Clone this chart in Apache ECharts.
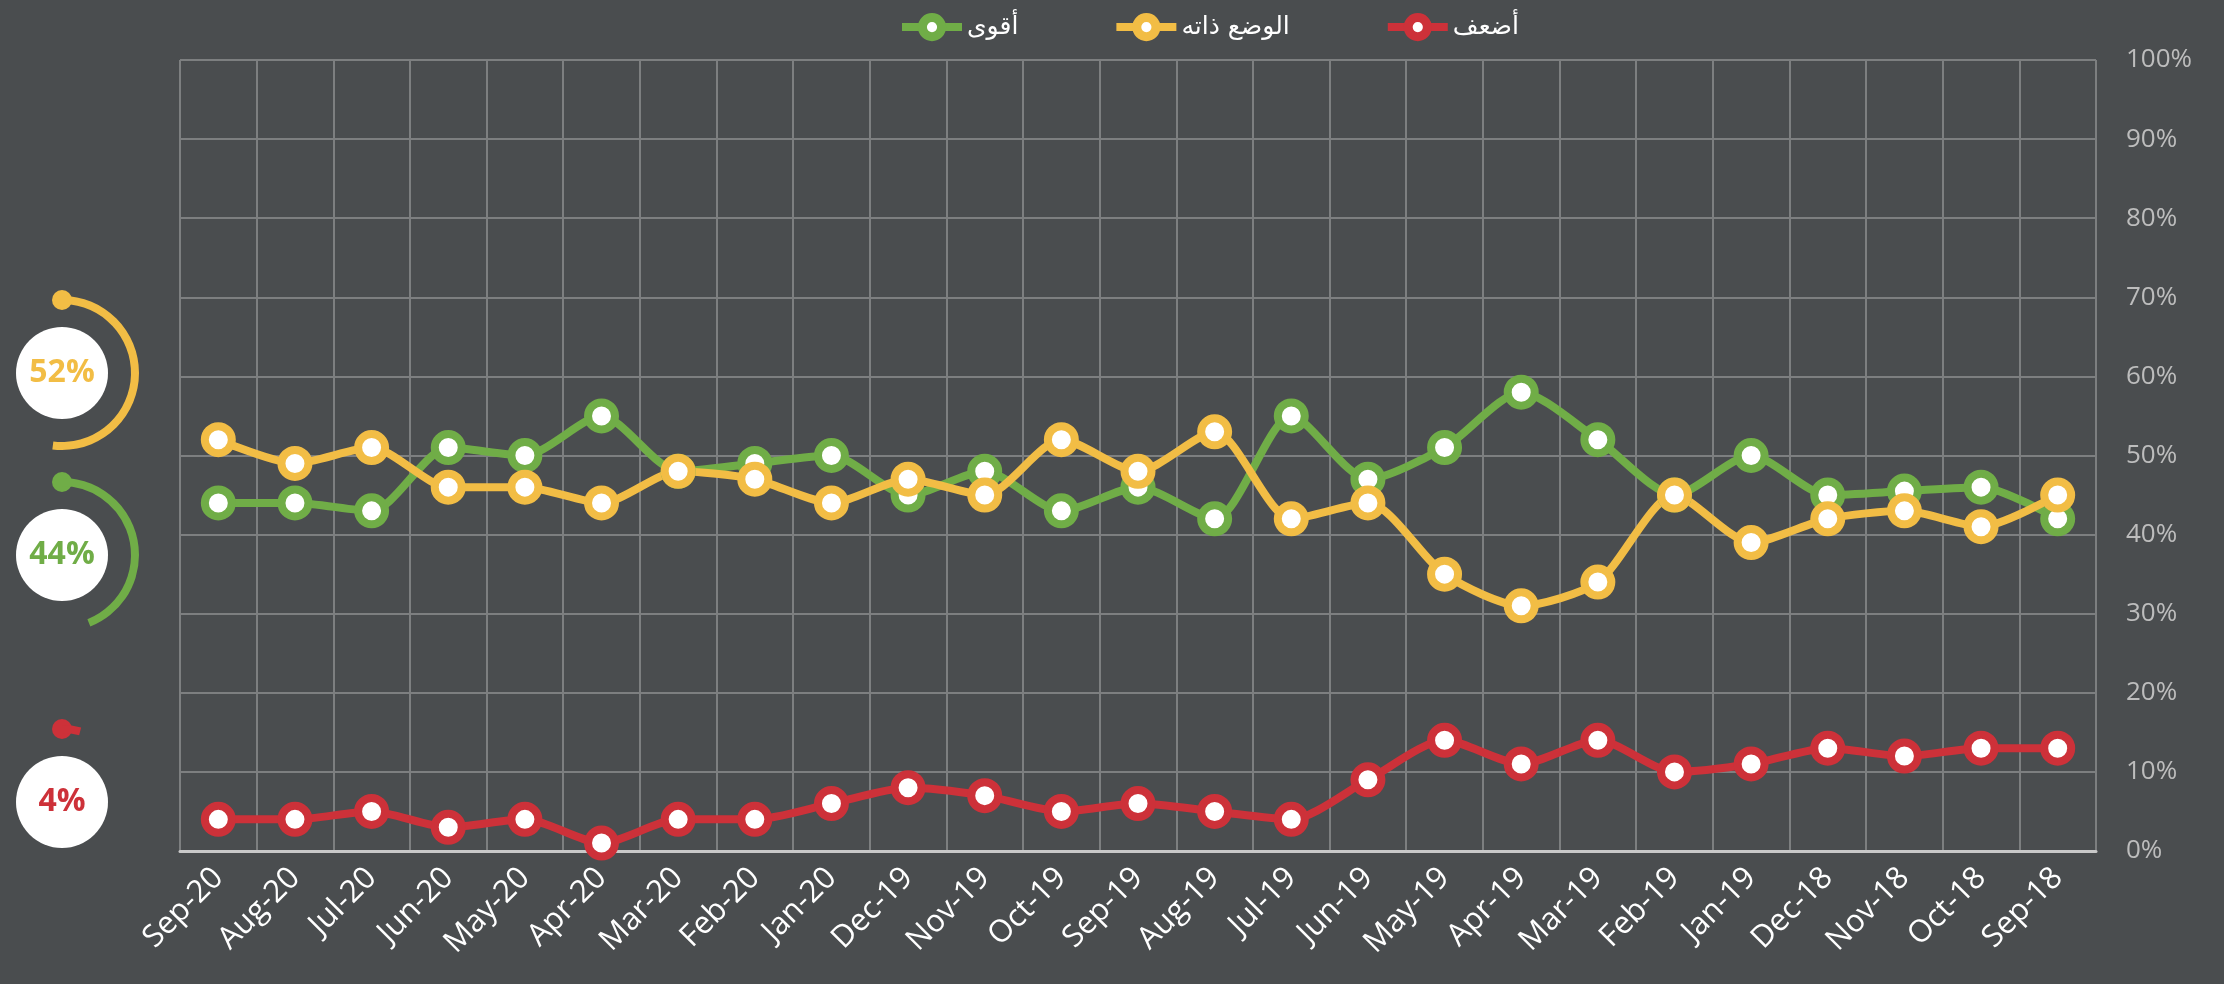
<!DOCTYPE html>
<html>
<head>
<meta charset="utf-8">
<script src="https://cdn.jsdelivr.net/npm/echarts@6/dist/echarts.min.js"></script>
<style>
html,body{margin:0;padding:0;background:#4a4d4f;}
#main{width:2224px;height:984px;}
</style>
</head>
<body>
<div id="main"></div>
<script>
var months=['Sep-20','Aug-20','Jul-20','Jun-20','May-20','Apr-20','Mar-20','Feb-20','Jan-20',
            'Dec-19','Nov-19','Oct-19','Sep-19','Aug-19','Jul-19','Jun-19','May-19','Apr-19',
            'Mar-19','Feb-19','Jan-19','Dec-18','Nov-18','Oct-18','Sep-18'];
var stronger=[44,44,43,51,50,55,48,49,50,45,48,43,46,42,55,47,51,58,52,45,50,45,45.5,46,42];
var same=[52,49,51,46,46,44,48,47,44,47,45,52,48,53,42,44,35,31,34,45,39,42,43,41,45];
var weaker=[4,4,5,3,4,1,4,4,6,8,7,5,6,5,4,9,14,11,14,10,11,13,12,13,13];
var yTicks=[0,10,20,30,40,50,60,70,80,90,100];

var names=['أقوى','الوضع ذاته','أضعف'];
var green='#70ad47', yellow='#f2bd45', red='#cd3139';

function lineSeries(name,color,values){
    return {
        name:name,
        type:'line',
        data:values,
        smooth:0.25,
        symbol:'circle',
        symbolSize:27,
        lineStyle:{color:color,width:8},
        itemStyle:{color:'#fff',borderColor:color,borderWidth:8},
        emphasis:{disabled:true}
    };
}

// small gauges on the left: latest month
var gaugeR=77, gaugeW=8;
var gauges=[
    {value:same[0],color:yellow,cy:373},
    {value:stronger[0],color:green,cy:555},
    {value:weaker[0],color:red,cy:802}
];
var gaugeCx=62;

function gaugeSeries(g){
    return {
        type:'gauge',
        center:[gaugeCx,g.cy],
        radius:gaugeR,
        startAngle:90,
        endAngle:-270,
        min:0,max:100,
        pointer:{show:false},
        progress:{show:true,width:gaugeW,itemStyle:{color:g.color}},
        axisLine:{lineStyle:{width:gaugeW,color:[[1,'rgba(0,0,0,0)']]}},
        axisTick:{show:false},
        splitLine:{show:false},
        axisLabel:{show:false},
        title:{show:false},
        anchor:{show:false},
        detail:{
            valueAnimation:false,
            formatter:'{value}%',
            color:g.color,
            fontSize:32,
            fontWeight:'bold',
            fontFamily:'Open Sans',
            offsetCenter:[0,0]
        },
        data:[{value:g.value}]
    };
}

var graphics=[];
gauges.forEach(function(g){
    graphics.push({
        type:'circle',
        shape:{cx:gaugeCx,cy:g.cy,r:46},
        style:{fill:'#fff'}
    });
    graphics.push({
        type:'circle',
        shape:{cx:gaugeCx,cy:g.cy-gaugeR+gaugeW/2,r:10},
        style:{fill:g.color}
    });
});

var series=[
    lineSeries(names[0],green,stronger),
    lineSeries(names[1],yellow,same),
    lineSeries(names[2],red,weaker)
];
gauges.forEach(function(g){ series.push(gaugeSeries(g)); });

var myChart=echarts.init(document.getElementById('main'));
var option={
    backgroundColor:'#4a4d4f',
    animation:false,
    legend:{
        data:names,
        top:8,
        left:893,
        itemWidth:60,
        itemHeight:24,
        itemGap:94,
        lineStyle:{width:8},
        itemStyle:{borderWidth:9},
        textStyle:{color:'#fff',fontSize:25,fontFamily:'DejaVu Sans'}
    },
    grid:{left:180,right:128,top:60,bottom:133},
    xAxis:{
        type:'category',
        data:months,
        boundaryGap:true,
        axisLine:{show:true,lineStyle:{color:'#c9c9c9',width:3}},
        axisTick:{show:false},
        splitLine:{show:true,lineStyle:{color:'#7d7f80',width:2}},
        axisLabel:{interval:0,rotate:45,margin:22,color:'#fff',fontSize:31,fontFamily:'Open Sans'}
    },
    yAxis:{
        type:'value',
        position:'right',
        min:yTicks[0],
        max:yTicks[yTicks.length-1],
        interval:10,
        axisLine:{show:false},
        axisTick:{show:false},
        splitLine:{show:true,lineStyle:{color:'#7d7f80',width:2}},
        axisLabel:{formatter:'{value}%',color:'#bdbdbd',fontSize:26,margin:30,fontFamily:'Open Sans'}
    },
    graphic:graphics,
    series:series
};
myChart.setOption(option);
</script>
</body>
</html>
